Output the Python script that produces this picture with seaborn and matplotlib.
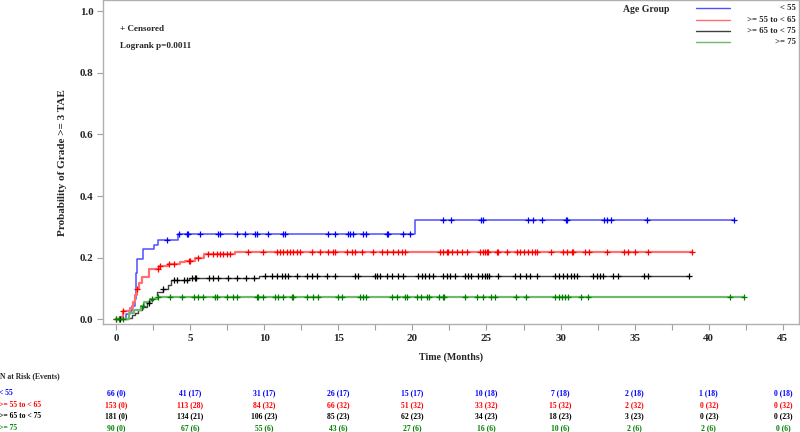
import numpy as np
import pandas as pd
import matplotlib
matplotlib.use("Agg")
import matplotlib.pyplot as plt
import matplotlib.transforms as mtransforms
from matplotlib.lines import Line2D
import seaborn as sns


# ---------------- DATA ----------------
groups = ["< 55", ">= 55 to < 65", ">= 65 to < 75", ">= 75"]

# step curves (time in months, cumulative probability)
t_lt55 = [0, 0.7, 0.95, 1.1, 1.25, 1.33, 1.42, 1.85, 2.55, 2.8, 4.15, 20.15]
p_lt55 = [0, 0.016, 0.028, 0.045, 0.066, 0.15, 0.196, 0.227, 0.24, 0.257, 0.276, 0.322]

t_55_65 = [0, 0.27, 0.5, 0.95, 1.17, 1.28, 1.39, 1.57, 1.73, 2.25, 2.9, 3.5, 4.3, 4.65, 5.3, 5.95, 8.0]
p_55_65 = [0, 0.008, 0.027, 0.037, 0.057, 0.079, 0.10, 0.117, 0.138, 0.163, 0.172, 0.18, 0.186, 0.19, 0.20, 0.211, 0.219]

t_65_75 = [0, 0.83, 1.06, 1.28, 1.5, 1.73, 2.06, 2.29, 2.5, 2.78, 3.2, 3.5, 3.7, 4.9, 9.68]
p_65_75 = [0, 0.005, 0.014, 0.021, 0.03, 0.04, 0.052, 0.063, 0.068, 0.09, 0.097, 0.111, 0.128, 0.133, 0.14]

t_ge75 = [0, 0.85, 1.2, 1.7, 1.9, 2.3, 2.8]
p_ge75 = [0, 0.02, 0.03, 0.045, 0.058, 0.065, 0.072]

# censored times
c_lt55 = [3.41, 4.22, 4.77, 4.88, 5.67, 6.9, 7.0, 8.14, 8.7, 9.37, 9.49, 10.28, 11.29, 11.4,
          14.33, 14.78, 15.68, 15.79, 16.0, 16.69, 16.9, 18.26, 18.37, 19.39, 19.84,
          22.09, 22.6, 24.63, 24.74, 27.77, 28.16, 28.72, 30.34, 30.4, 32.95, 33.15, 33.4,
          35.8, 41.7]
c_55_65 = [0.0, 0.5, 1.4, 2.8, 3.0, 3.6, 3.9, 4.9, 5.0, 5.55, 6.23, 6.57, 6.8, 7.02, 7.25,
           7.47, 7.7, 8.93, 9.94, 10.84, 11.06, 11.29, 11.51, 11.74, 11.96, 12.19, 12.41,
           13.2, 13.77, 14.33, 14.66, 14.78, 15.57, 15.9, 16.12, 16.57, 17.36, 17.93,
           18.26, 18.71, 19.05, 19.3, 19.5, 21.86, 22.09, 22.31, 22.42, 22.65, 22.99,
           23.32, 23.66, 24.56, 24.79, 24.9, 25.01, 25.12, 25.69, 25.8, 26.36, 27.04,
           27.26, 27.53, 27.82, 28.05, 28.27, 28.38, 29.35, 30.18, 30.4, 30.74, 30.85,
           31.65, 31.94, 33.15, 34.28, 34.57, 35.02, 35.92, 38.9]
c_65_75 = [0.3, 2.2, 3.2, 3.9, 4.1, 4.56, 4.77, 5.1, 5.33, 5.4, 6.3, 6.57, 6.9, 7.57, 8.14,
           8.8, 9.3, 10.06, 10.5, 10.84, 11.18, 11.4, 11.63, 12.19, 12.88, 13.2, 13.55,
           14.22, 14.78, 16.12, 16.35, 17.47, 17.59, 17.81, 18.26, 18.6, 19.05, 19.39,
           20.4, 20.63, 20.85, 21.15, 21.41, 22.09, 22.31, 22.54, 22.88, 23.55, 23.77,
           23.93, 24.45, 24.68, 24.9, 25.06, 25.19, 25.8, 26.92, 27.26, 27.66, 27.93,
           28.43, 29.62, 29.91, 30.18, 30.4, 30.67, 30.9, 31.08, 32.16, 32.43, 32.66,
           32.88, 33.55, 33.89, 35.6, 35.87, 38.7]
c_ge75 = [0.0, 0.22, 0.45, 1.8, 2.45, 2.8, 3.65, 4.44, 5.23, 5.56, 5.9, 6.69, 6.8, 7.47,
          7.92, 8.14, 9.49, 9.6, 9.94, 10.73, 10.95, 11.29, 11.85, 11.96, 12.88, 13.32,
          13.66, 15.0, 15.24, 16.46, 16.69, 16.9, 18.6, 18.94, 19.5, 19.66, 20.3, 20.58,
          21.0, 21.09, 21.77, 22.05, 22.15, 23.55, 24.38, 24.79, 25.28, 25.57, 26.98,
          27.66, 29.64, 29.87, 30.1, 30.33, 30.5, 31.37, 31.82, 41.4, 42.4]

# number at risk table
risk_times = [0, 5, 10, 15, 20, 25, 30, 35, 40, 45]
risk_lt55 = [66, 41, 31, 26, 15, 10, 7, 2, 1, 0]
ev_lt55 = [0, 17, 17, 17, 17, 18, 18, 18, 18, 18]
risk_55_65 = [153, 113, 84, 66, 51, 33, 15, 2, 0, 0]
ev_55_65 = [0, 28, 32, 32, 32, 32, 32, 32, 32, 32]
risk_65_75 = [181, 134, 106, 85, 62, 34, 18, 3, 0, 0]
ev_65_75 = [0, 21, 23, 23, 23, 23, 23, 23, 23, 23]
risk_ge75 = [90, 67, 55, 43, 27, 16, 10, 2, 2, 0]
ev_ge75 = [0, 6, 6, 6, 6, 6, 6, 6, 6, 6]

line_colors = ["#5050ff", "#ff7070", "#404040", "#70b870"]
mark_colors = ["#0000ff", "#ff0000", "#000000", "#008000"]
text_colors = ["#0000ff", "#ff0000", "#000000", "#008000"]


# ---------------- PLOT ----------------
sns.set_style("white")
plt.rcParams["font.family"] = ["Liberation Serif", "DejaVu Serif"]
plt.rcParams["font.weight"] = "bold"

fig = plt.figure(figsize=(8, 4.32), dpi=100)
ax = fig.add_axes([103 / 800, 0.25, 696 / 800, 0.999 - 0.25])

curves = [(t_lt55, p_lt55, c_lt55), (t_55_65, p_55_65, c_55_65),
          (t_65_75, p_65_75, c_65_75), (t_ge75, p_ge75, c_ge75)]
widths = [1.1, 1.6, 1.0, 1.6]

for i, (t, p, c) in enumerate(curves):
    t = np.array(t)
    p = np.array(p)
    c = np.array(c)
    end = max(c.max(), t.max())
    xs = np.append(t, end)
    ys = np.append(p, p[-1])
    sns.lineplot(x=xs, y=ys, ax=ax, color=line_colors[i], lw=widths[i],
                 drawstyle="steps-post", estimator=None, sort=False, legend=False)
    cy = p[np.searchsorted(t, c, side="right") - 1]
    sns.scatterplot(x=c, y=cy, ax=ax, marker="+", s=15, color=mark_colors[i],
                    linewidth=0.9, legend=False, zorder=3)

ax.set_xlim(-0.88, 46.09)
ax.set_ylim(-0.015, 1.035)
ax.set_xticks(np.arange(0, 46, 5))
ax.set_xticks(np.arange(0, 46, 2.5), minor=True)
ax.set_yticks([0.0, 0.2, 0.4, 0.6, 0.8, 1.0])
ax.set_yticklabels(["0.0", "0.2", "0.4", "0.6", "0.8", "1.0"])
ax.tick_params(axis="both", which="both", direction="out", color="#a0a0a0",
               length=4, width=0.8, labelsize=7.9, pad=3, bottom=True, left=True)
for s in ax.spines.values():
    s.set_color("#b0b0b0")
    s.set_linewidth(1.0)

ax.set_xlabel("Time (Months)", fontsize=7.2, fontweight="bold", labelpad=7)
ax.set_ylabel("Probability of Grade >= 3 TAE", fontsize=8, fontweight="bold", labelpad=9)

ax.text(120 / 800, 1 - 29 / 432, "+ Censored", transform=fig.transFigure,
        fontsize=6.6, fontweight="bold", va="center", ha="left")
ax.text(120 / 800, 1 - 46 / 432, "Logrank p=0.0011", transform=fig.transFigure,
        fontsize=6.6, fontweight="bold", va="center", ha="left")

# legend
fig.text(623 / 800, 1 - 9 / 432, "Age Group", fontsize=7, fontweight="bold",
         va="center", ha="left")
leg_y = [8, 19.5, 31, 42]
for i, g in enumerate(groups):
    y = 1 - leg_y[i] / 432
    fig.add_artist(Line2D([696 / 800, 730 / 800], [y, y], color=line_colors[i], lw=1.0))
    fig.text(796 / 800, y, g, fontsize=6.3, fontweight="bold", va="center", ha="right")

# risk table
trans = mtransforms.blended_transform_factory(ax.transData, fig.transFigure)
fig.text(0.0, 1 - 376 / 432, "N at Risk (Events)", fontsize=5.5, fontweight="bold",
         va="center", ha="left")
risk_rows = [(risk_lt55, ev_lt55), (risk_55_65, ev_55_65),
             (risk_65_75, ev_65_75), (risk_ge75, ev_ge75)]
row_y = [393, 404.7, 415.7, 427.7]
for i, (n, e) in enumerate(risk_rows):
    y = 1 - row_y[i] / 432
    fig.text(-0.001, y, groups[i], fontsize=5.5, fontweight="bold", va="center",
             ha="left", color=text_colors[i])
    for t, nn, ee in zip(risk_times, n, e):
        fig.text(t, y, f"{nn} ({ee})", transform=trans, fontsize=5.5, fontweight="bold",
                 va="center", ha="center", color=text_colors[i])

fig.savefig("out.png", dpi=100)
